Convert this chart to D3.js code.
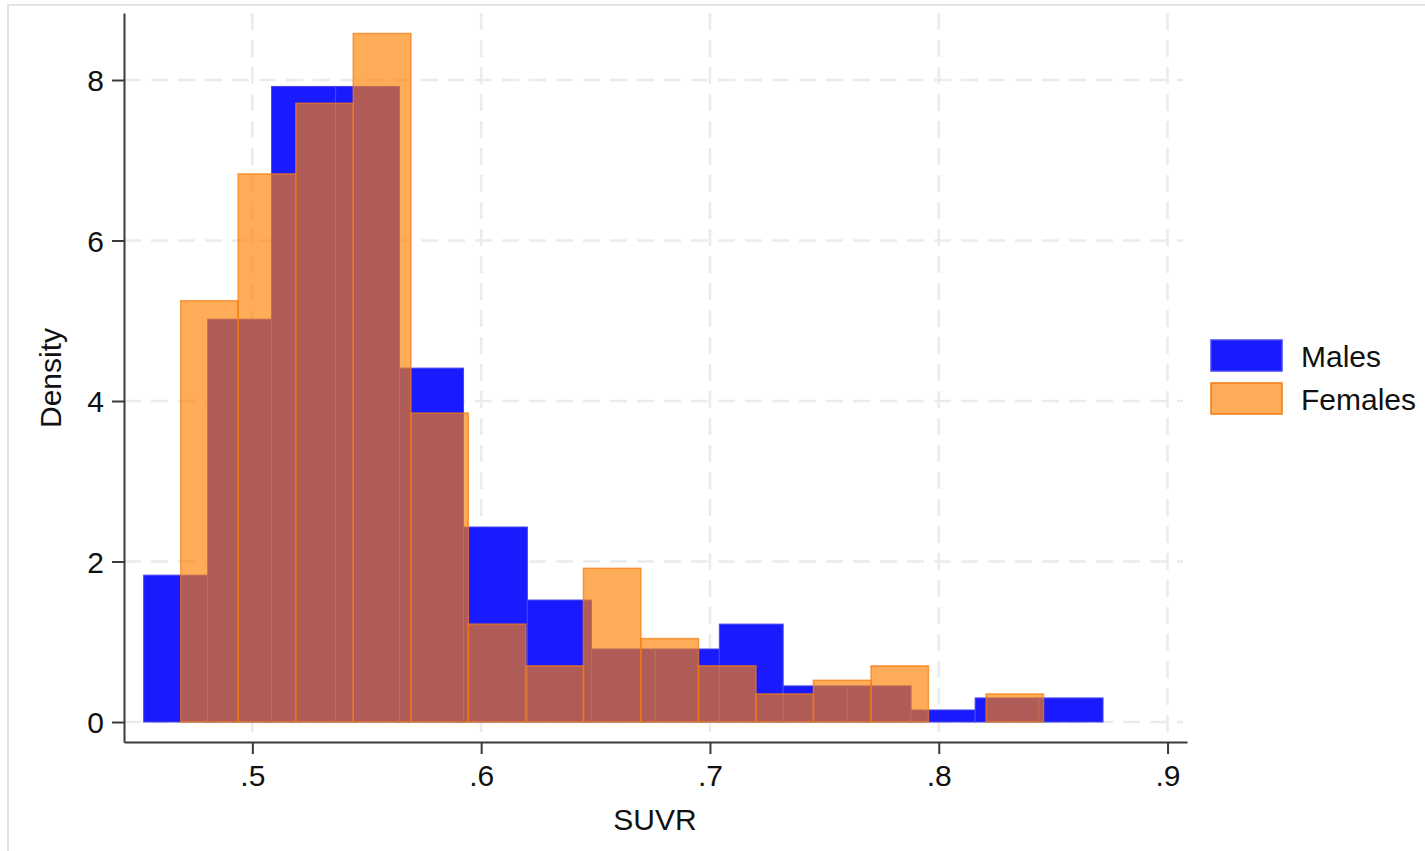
<!DOCTYPE html>
<html>
<head>
<meta charset="utf-8">
<script src="https://cdn.jsdelivr.net/npm/d3@7"></script>
<style>
    body { margin: 0; background: #fff; }
    svg { display: block; font-family: "Liberation Sans", Arial, sans-serif; }
    .tick text { font-size: 30px; fill: #111; }
</style>
</head>
<body>
<svg width="1425" height="851"></svg>
<script>
// SUVR histogram, males vs females (density)
var maleEdges = [0.4525, 0.4805, 0.5084, 0.5364, 0.5643, 0.5923, 0.6202, 0.6482,
                 0.6761, 0.7041, 0.7320, 0.7600, 0.7879, 0.8159, 0.8438, 0.8718];
var maleDensity = [1.83, 5.02, 7.92, 7.92, 4.41, 2.43, 1.52, 0.91,
                   0.91, 1.22, 0.45, 0.45, 0.15, 0.30, 0.30];

var femaleEdges = [0.4687, 0.4938, 0.5190, 0.5441, 0.5693, 0.5944, 0.6195, 0.6447,
                   0.6698, 0.6950, 0.7201, 0.7452, 0.7704, 0.7955, 0.8207, 0.8458];
var femaleDensity = [5.25, 6.83, 7.71, 8.58, 3.85, 1.22, 0.70, 1.915,
                     1.04, 0.70, 0.35, 0.52, 0.70, 0, 0.35];

var xTicks = [0.5, 0.6, 0.7, 0.8, 0.9];
var xTickLabels = [".5", ".6", ".7", ".8", ".9"];
var yTicks = [0, 2, 4, 6, 8];
var legendLabels = ["Males", "Females"];

function toBins(edges, dens) {
    return dens.map(function (d, i) {
        return { x0: edges[i], x1: edges[i + 1], value: d };
    }).filter(function (b) { return b.value > 0; });
}

var svg = d3.select("svg");

// outer frame (cut off at right/bottom like the export)
svg.append("rect")
    .attr("x", 8).attr("y", 5)
    .attr("width", 1500).attr("height", 900)
    .attr("fill", "none")
    .attr("stroke", "#e3e3e3")
    .attr("stroke-width", 2);

var plotLeft = 124, plotRight = 1187, plotTop = 13, plotBottom = 742;

var x = d3.scaleLinear().domain([0.4439, 0.9085]).range([plotLeft, plotRight]);
var y = d3.scaleLinear().domain([-0.249, 8.835]).range([plotBottom, plotTop]);

// grid
var grid = svg.append("g")
    .attr("stroke", "#ebebeb")
    .attr("stroke-width", 2.5)
    .attr("stroke-dasharray", "17,10");

grid.selectAll(".hgrid")
    .data(yTicks)
    .enter()
    .append("line")
    .attr("x1", plotLeft).attr("x2", plotRight - 4)
    .attr("y1", function (d) { return y(d); })
    .attr("y2", function (d) { return y(d); });

grid.selectAll(".vgrid")
    .data(xTicks)
    .enter()
    .append("line")
    .attr("y1", plotTop).attr("y2", plotBottom)
    .attr("x1", function (d) { return x(d); })
    .attr("x2", function (d) { return x(d); });

// male bars
svg.append("g")
    .selectAll("rect")
    .data(toBins(maleEdges, maleDensity))
    .enter()
    .append("rect")
    .attr("x", function (d) { return x(d.x0); })
    .attr("y", function (d) { return y(d.value); })
    .attr("width", function (d) { return x(d.x1) - x(d.x0); })
    .attr("height", function (d) { return y(0) - y(d.value); })
    .attr("fill", "#1a1aff")
    .attr("stroke", "#4646f0")
    .attr("stroke-width", 1);

// female bars (transparent orange)
svg.append("g")
    .selectAll("rect")
    .data(toBins(femaleEdges, femaleDensity))
    .enter()
    .append("rect")
    .attr("x", function (d) { return x(d.x0); })
    .attr("y", function (d) { return y(d.value); })
    .attr("width", function (d) { return x(d.x1) - x(d.x0); })
    .attr("height", function (d) { return y(0) - y(d.value); })
    .attr("fill", "#ff8000")
    .attr("fill-opacity", 0.65)
    .attr("stroke", "#f47a10")
    .attr("stroke-opacity", 0.7)
    .attr("stroke-width", 1.5);

// axes
var xAxis = svg.append("g")
    .attr("transform", "translate(0," + plotBottom + ")")
    .call(d3.axisBottom(x)
        .tickValues(xTicks)
        .tickFormat(function (d, i) { return xTickLabels[i]; })
        .tickSize(12)
        .tickPadding(11)
        .tickSizeOuter(0));

var yAxis = svg.append("g")
    .attr("transform", "translate(" + plotLeft + ",0)")
    .call(d3.axisLeft(y)
        .tickValues(yTicks)
        .tickFormat(d3.format("d"))
        .tickSize(12)
        .tickPadding(8)
        .tickSizeOuter(0));

[xAxis, yAxis].forEach(function (a) {
    a.select(".domain").attr("stroke", "#3a3a3a").attr("stroke-width", 2);
    a.selectAll(".tick line").attr("stroke", "#3a3a3a").attr("stroke-width", 2);
    a.selectAll(".tick text").attr("font-family", "Liberation Sans, Arial, sans-serif");
});
yAxis.selectAll(".tick text").attr("dy", "0.36em");

// axis titles
svg.append("text")
    .attr("x", 655).attr("y", 830)
    .attr("text-anchor", "middle")
    .attr("font-size", 30)
    .attr("fill", "#111")
    .text("SUVR");

svg.append("text")
    .attr("transform", "translate(61,378) rotate(-90)")
    .attr("text-anchor", "middle")
    .attr("font-size", 30)
    .attr("fill", "#111")
    .text("Density");

// legend
var legend = svg.append("g")
    .attr("transform", "translate(1211,340)");

var swatches = [
    { fill: "#1a1aff", opacity: 1, stroke: "#4646f0" },
    { fill: "#ff8000", opacity: 0.65, stroke: "#f47a10" }
];

var item = legend.selectAll(".item")
    .data(legendLabels)
    .enter()
    .append("g")
    .attr("transform", function (d, i) { return "translate(0," + (i * 43) + ")"; });

item.append("rect")
    .attr("width", 71).attr("height", 31)
    .attr("fill", function (d, i) { return swatches[i].fill; })
    .attr("fill-opacity", function (d, i) { return swatches[i].opacity; })
    .attr("stroke", function (d, i) { return swatches[i].stroke; })
    .attr("stroke-width", 1.5);

item.append("text")
    .attr("x", 90).attr("y", 27)
    .attr("font-size", 30)
    .attr("fill", "#111")
    .text(function (d) { return d; });
</script>
</body>
</html>
